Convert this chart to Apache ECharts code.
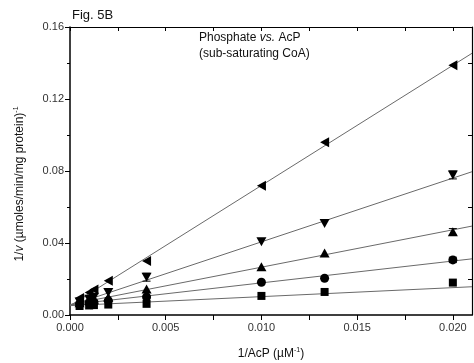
<!DOCTYPE html>
<html>
<head>
<meta charset="utf-8">
<script src="https://cdn.jsdelivr.net/npm/echarts@6/dist/echarts.min.js"></script>
<style>
  html, body { margin: 0; padding: 0; background: #fff; }
  #chart { width: 474px; height: 363px; }
</style>
</head>
<body>
<div id="chart"></div>
<script>
// 1/[AcP] values (uM^-1)
const xValues = [0.0005, 0.001, 0.00125, 0.002, 0.004, 0.010, 0.0133, 0.020];

// 1/v for each phosphate concentration
const squareY = [0.0050, 0.0053, 0.0055, 0.0058, 0.0062, 0.0106, 0.0128, 0.0180];
const circleY = [0.0062, 0.0068, 0.0072, 0.0080, 0.0100, 0.0182, 0.0204, 0.0306];
const upTriY = [0.0068, 0.0080, 0.0085, 0.0098, 0.0145, 0.0268, 0.0345, 0.0462];
const downTriY = [0.0072, 0.0088, 0.0098, 0.0125, 0.0210, 0.0407, 0.0508, 0.0778];
const leftTriY = [0.0095, 0.0125, 0.0142, 0.0190, 0.0300, 0.0718, 0.0960, 0.1388];

// error bars (half height), zero where none is visible
const squareErr = [0, 0, 0, 0, 0, 0, 0, 0];
const circleErr = [0, 0, 0, 0, 0, 0, 0, 0.0015];
const upTriErr = [0, 0, 0, 0, 0, 0, 0, 0.0018];
const downTriErr = [0, 0, 0, 0, 0.0022, 0, 0, 0.0022];
const leftTriErr = [0, 0, 0, 0, 0, 0, 0, 0];

// fitted lines: y at x = 0 and at the right edge
const fitX = [0, 0.021];
const squareFit = [0.0052, 0.0157];
const circleFit = [0.0057, 0.0312];
const upTriFit = [0.0058, 0.0494];
const downTriFit = [0.0052, 0.0796];
const leftTriFit = [0.0052, 0.1454];

const xTickValues = [0, 0.0025, 0.005, 0.0075, 0.01, 0.0125, 0.015, 0.0175, 0.02];
const xLabelValues = [0, 0.005, 0.01, 0.015, 0.02];
const rightTickValues = [0.02, 0.06, 0.1, 0.14];

const FONT = "Liberation Sans, Arial, sans-serif";

const groups = [
  { y: squareY, err: squareErr, fit: squareFit, symbol: "rect", size: 8 },
  { y: circleY, err: circleErr, fit: circleFit, symbol: "circle", size: 9 },
  { y: upTriY, err: upTriErr, fit: upTriFit, symbol: "path://M5,0 L10,9 L0,9 Z", size: [10, 9] },
  { y: downTriY, err: downTriErr, fit: downTriFit, symbol: "path://M0,0 L10,0 L5,9 Z", size: [10, 9] },
  { y: leftTriY, err: leftTriErr, fit: leftTriFit, symbol: "path://M9,0 L9,10 L0,5 Z", size: [9, 10] }
];

function renderErrorBar(params, api) {
  const x = api.value(0);
  const y = api.value(1);
  const e = api.value(2);
  const top = api.coord([x, y + e]);
  const bottom = api.coord([x, y - e]);
  const style = { stroke: "#000", lineWidth: 1 };
  return {
    type: "group",
    children: [
      { type: "line", shape: { x1: top[0], y1: top[1], x2: bottom[0], y2: bottom[1] }, style },
      { type: "line", shape: { x1: top[0] - 4, y1: top[1], x2: top[0] + 4, y2: top[1] }, style },
      { type: "line", shape: { x1: bottom[0] - 4, y1: bottom[1], x2: bottom[0] + 4, y2: bottom[1] }, style }
    ]
  };
}

const series = [];
groups.forEach((g) => {
  series.push({
    type: "line",
    data: fitX.map((x, i) => [x, g.fit[i]]),
    symbol: "none",
    silent: true,
    lineStyle: { color: "#6a6a6a", width: 1 },
    z: 2
  });
});
groups.forEach((g) => {
  const bars = xValues
    .map((x, i) => [x, g.y[i], g.err[i]])
    .filter((d) => d[2] > 0);
  if (bars.length) {
    series.push({ type: "custom", renderItem: renderErrorBar, data: bars, z: 3 });
  }
});
groups.forEach((g) => {
  series.push({
    type: "scatter",
    data: xValues.map((x, i) => [x, g.y[i]]),
    symbol: g.symbol,
    symbolSize: g.size,
    itemStyle: { color: "#000", opacity: 1 },
    z: 4
  });
});

const chart = echarts.init(document.getElementById("chart"));
chart.setOption({
  animation: false,
  backgroundColor: "#fff",
  grid: { left: 70, right: 2, top: 27, bottom: 48, containLabel: false, outerBoundsMode: "none" },
  xAxis: [
    {
      type: "value",
      position: "bottom",
      min: 0,
      max: 0.021,
      axisLine: { show: true, onZero: false, lineStyle: { color: "#000", width: 1.5 } },
      axisTick: { show: true, customValues: xTickValues, length: 5, lineStyle: { color: "#000" } },
      axisLabel: {
        customValues: xLabelValues,
        formatter: (v) => v.toFixed(3),
        color: "#333",
        fontSize: 11,
        fontFamily: FONT,
        margin: 7
      },
      splitLine: { show: false }
    },
    {
      type: "value",
      position: "top",
      min: 0,
      max: 0.021,
      axisLine: { show: true, onZero: false, lineStyle: { color: "#000", width: 1.2 } },
      axisTick: { show: true, inside: true, customValues: xTickValues, length: 4, lineStyle: { color: "#000" } },
      axisLabel: { show: false },
      splitLine: { show: false }
    }
  ],
  yAxis: [
    {
      type: "value",
      position: "left",
      min: 0,
      max: 0.16,
      interval: 0.04,
      axisLine: { show: true, onZero: false, lineStyle: { color: "#000", width: 1.5 } },
      axisTick: { show: true, length: 5, lineStyle: { color: "#000" } },
      minorTick: { show: true, splitNumber: 2, length: 3, lineStyle: { color: "#000" } },
      axisLabel: {
        formatter: (v) => v.toFixed(2),
        color: "#333",
        fontSize: 11,
        fontFamily: FONT,
        margin: 6
      },
      splitLine: { show: false }
    },
    {
      type: "value",
      position: "right",
      min: 0,
      max: 0.16,
      axisLine: { show: true, onZero: false, lineStyle: { color: "#000", width: 1.2 } },
      axisTick: { show: true, inside: true, customValues: rightTickValues, length: 4, lineStyle: { color: "#000" } },
      axisLabel: { show: false },
      splitLine: { show: false }
    }
  ],
  graphic: [
    {
      type: "text",
      left: 72,
      top: 9,
      style: { text: "Fig. 5B", fontSize: 13, fontFamily: FONT, fill: "#111" }
    },
    {
      type: "text",
      left: 199,
      top: 32,
      style: {
        text: "{n|Phosphate }{i|vs.}{n| AcP}\n{n|(sub-saturating CoA)}",
        fill: "#111",
        rich: {
          n: { fontSize: 12, fontFamily: FONT, lineHeight: 16, fill: "#111" },
          i: { fontSize: 12, fontFamily: FONT, fontStyle: "italic", lineHeight: 16, fill: "#111" }
        }
      }
    },
    {
      type: "text",
      x: 271,
      y: 354,
      style: {
        text: "{n|1/AcP (µM}{s|-1}{n|)}",
        align: "center",
        verticalAlign: "middle",
        rich: {
          n: { fontSize: 12, fontFamily: FONT, fill: "#111", lineHeight: 14 },
          s: { fontSize: 7, fontFamily: FONT, fill: "#111", verticalAlign: "top", lineHeight: 14 }
        }
      }
    },
    {
      type: "text",
      x: 20,
      y: 184,
      rotation: Math.PI / 2,
      style: {
        text: "{n|1/}{i|v}{n| (µmoles/min/mg protein)}{s|-1}",
        align: "center",
        verticalAlign: "middle",
        rich: {
          n: { fontSize: 12, fontFamily: FONT, fill: "#111", lineHeight: 14 },
          i: { fontSize: 12, fontFamily: FONT, fontStyle: "italic", fill: "#111", lineHeight: 14 },
          s: { fontSize: 7, fontFamily: FONT, fill: "#111", verticalAlign: "top", lineHeight: 14 }
        }
      }
    }
  ],
  series
});
</script>
</body>
</html>
